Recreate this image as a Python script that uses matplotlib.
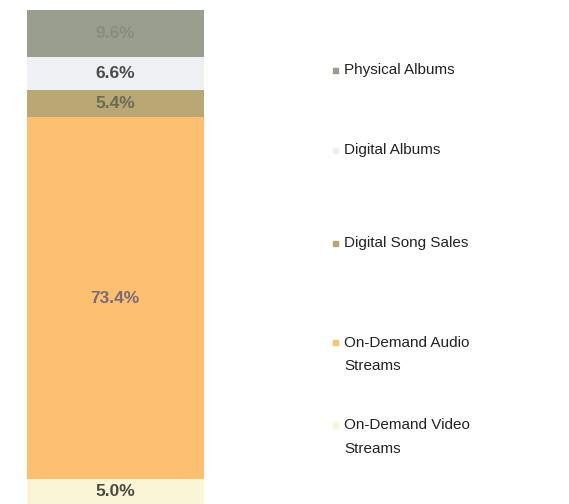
import matplotlib.pyplot as plt
from matplotlib.patches import Rectangle

plt.rcParams['font.family'] = ['Liberation Sans', 'DejaVu Sans']

# quote per formato, dal basso verso l'alto
categorie = ['On-Demand Video\nStreams', 'On-Demand Audio\nStreams', 'Digital Song Sales',
             'Digital Albums', 'Physical Albums']
valori = [5.0, 73.4, 5.4, 6.6, 9.6]
colori = ['#f9f5d6', '#fdc070', '#b9a873', '#eef0f3', '#9a9e8e']
col_testo = ['#4a4a40', '#7a6a78', '#6a6a58', '#4a4a4a', '#8a8c80']

fig = plt.figure(figsize=(5.69, 5.04), dpi=100)
ax = fig.add_axes([0.047, 0.0, 0.311, 0.98])

base = 0
for v, c, tc in zip(valori, colori, col_testo):
    ax.bar(0, v, bottom=base, width=1.0, color=c)
    ax.text(0, base + v / 2, f'{v:.1f}%', ha='center', va='center',
            fontsize=12.5, fontweight='bold', color=tc)
    base += v
ax.set_xlim(-0.5, 0.5)
ax.set_ylim(0, 100)
ax.axis('off')

# legenda a mano (spaziatura irregolare come nell'originale)
ypos = [0.861, 0.702, 0.517, 0.321, 0.157]
for cat, c, y in zip(categorie[::-1], colori[::-1], ypos):
    fig.patches.append(Rectangle((0.585, y - 0.006), 0.009, 0.011, color=c,
                                 transform=fig.transFigure, figure=fig))
    nl = cat.count('\n')
    fig.text(0.605, y + 0.013 * nl, cat, ha='left', va='top' if nl else 'center',
             fontsize=11, color='#222222', linespacing=1.85)

fig.savefig('out.png', dpi=100)
